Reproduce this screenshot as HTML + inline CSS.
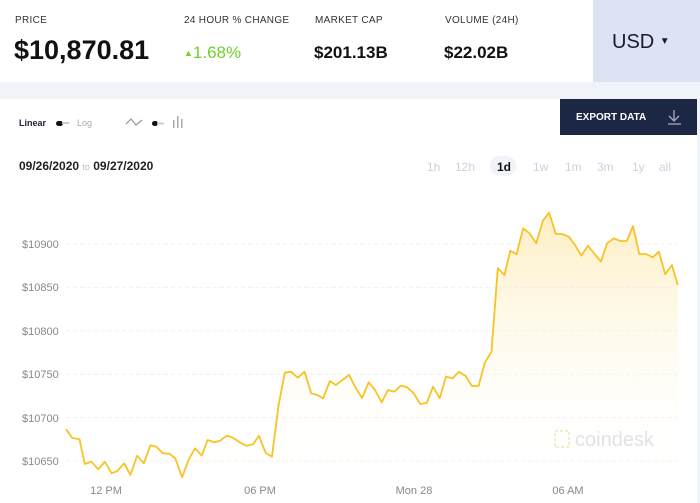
<!DOCTYPE html>
<html><head><meta charset="utf-8"><style>
*{margin:0;padding:0;box-sizing:border-box}
body{width:700px;height:503px;background:#f0f3f8;font-family:"Liberation Sans",sans-serif;position:relative;overflow:hidden;color:#1a1a2e}
.a{position:absolute;white-space:nowrap}
.lab{font-size:10px;color:#333;letter-spacing:0.3px}
.val{font-size:17px;font-weight:bold;color:#111}
.tf{position:absolute;top:160px;font-size:12px;color:#ccd2dd}
</style></head><body>
<div class="a" style="left:0;top:0;width:593px;height:82px;background:#fff"></div>
<div class="a" style="left:593px;top:0;width:107px;height:82px;background:#dde3f3"></div>
<div class="a" style="left:612px;top:31px;font-size:20px;color:#1a1a2e">USD <span style="font-size:10px;vertical-align:4px">▼</span></div>
<div class="a lab" style="left:15px;top:15px">PRICE</div>
<div class="a lab" style="left:184px;top:15px">24 HOUR % CHANGE</div>
<div class="a lab" style="left:315px;top:15px">MARKET CAP</div>
<div class="a lab" style="left:445px;top:15px">VOLUME (24H)</div>
<div class="a" style="left:14px;top:35px;font-size:27px;font-weight:bold;color:#111">$10,870.81</div>
<div class="a" style="left:184px;top:43px;font-size:17px;color:#6fd12a"><span style="font-size:9px;vertical-align:2px">▲</span>1.68%</div>
<div class="a val" style="left:314px;top:43px">$201.13B</div>
<div class="a val" style="left:444px;top:43px">$22.02B</div>

<div class="a" style="left:0;top:99px;width:697px;height:404px;background:#fff"></div>
<div class="a" style="left:560px;top:99px;width:137px;height:36px;background:#1c2645"></div>
<div class="a" style="left:576px;top:112px;font-size:10px;font-weight:bold;color:#fff">EXPORT DATA</div>
<svg class="a" style="left:666px;top:109px" width="18" height="17"><path d="M8,1V12M3,7L8,12L13,7M2,15H15" fill="none" stroke="#aab" stroke-width="1.3"/></svg>
<div class="a" style="left:19px;top:118px;font-size:9px;font-weight:bold;color:#223">Linear</div>
<div class="a" style="left:56px;top:121px;width:7px;height:5px;border-radius:3px;background:#111"></div>
<div class="a" style="left:62px;top:122px;width:7px;height:2px;background:#ccc"></div>
<div class="a" style="left:77px;top:118px;font-size:9px;color:#aaa">Log</div>
<svg class="a" style="left:125px;top:114px" width="65" height="16"><polyline points="1,10 6,5 11,11 17,6" fill="none" stroke="#999" stroke-width="1.2"/><rect x="27" y="7" width="6" height="5" rx="2.5" fill="#111"/><rect x="32" y="8.5" width="7" height="2" fill="#ccc"/><rect x="48" y="6" width="1.5" height="8" fill="#aaa"/><rect x="52" y="2" width="1.5" height="12" fill="#aaa"/><rect x="56" y="5" width="1.5" height="9" fill="#aaa"/></svg>
<div class="a" style="left:19px;top:159px;font-size:12px;font-weight:bold;color:#222">09/26/2020 <span style="font-size:9px;font-weight:normal;color:#bbb">to</span> 09/27/2020</div>
<div class="a" style="left:490px;top:156px;width:26px;height:20px;border-radius:10px;background:#f0f3f8"></div>
<span class="tf" style="left:427px">1h</span>
<span class="tf" style="left:455px">12h</span>
<span class="tf" style="left:497px;color:#111;font-weight:bold">1d</span>
<span class="tf" style="left:533px">1w</span>
<span class="tf" style="left:565px">1m</span>
<span class="tf" style="left:597px">3m</span>
<span class="tf" style="left:632px">1y</span>
<span class="tf" style="left:659px">all</span>

<svg class="a" style="left:0;top:0" width="700" height="503">
<defs><linearGradient id="g" x1="0" y1="0" x2="0" y2="1"><stop offset="0" stop-color="#fde7a8" stop-opacity="0.7"/><stop offset="1" stop-color="#fff" stop-opacity="0"/></linearGradient></defs>
<g stroke="#edf0f6" stroke-dasharray="4,3" stroke-width="1">
<line x1="66" x2="678" y1="244" y2="244"/><line x1="66" x2="678" y1="287.4" y2="287.4"/><line x1="66" x2="678" y1="330.8" y2="330.8"/><line x1="66" x2="678" y1="374.2" y2="374.2"/><line x1="66" x2="678" y1="417.6" y2="417.6"/><line x1="66" x2="678" y1="461" y2="461"/></g>
<g font-size="11" fill="#888" font-family="Liberation Sans,sans-serif">
<text x="22" y="248">$10900</text><text x="22" y="291">$10850</text><text x="22" y="335">$10800</text><text x="22" y="378">$10750</text><text x="22" y="422">$10700</text><text x="22" y="465">$10650</text>
<g text-anchor="middle"><text x="106" y="494">12 PM</text><text x="260" y="494">06 PM</text><text x="414" y="494">Mon 28</text><text x="568" y="494">06 AM</text></g></g>
<text x="575" y="446" font-size="20" fill="#dde0e6" font-family="Liberation Sans,sans-serif">coindesk</text>
<rect x="555" y="431" width="14" height="16" fill="none" stroke="#f5e9c8" stroke-width="2" stroke-dasharray="3,2"/>
<path id="area" fill="url(#g)"/>
<path id="ln" fill="none" stroke="#f7c325" stroke-width="1.8" stroke-linejoin="round"/>
</svg>
<script>
var p=[148,718,162,744,178,748,190,822,205,815,220,838,235,815,250,850,263,843,278,820,292,855,307,797,322,820,337,766,350,770,365,790,380,791,393,806,408,862,423,808,437,775,452,797,465,750,480,757,493,752,508,737,522,743,537,757,552,767,567,763,580,737,595,788,609,800,624,645,638,548,652,545,667,563,682,545,697,610,711,615,724,625,739,573,752,585,767,570,782,555,797,595,811,624,826,577,840,600,855,637,869,600,883,605,898,587,912,592,927,610,941,642,956,639,970,590,985,625,999,560,1014,565,1028,545,1043,558,1057,588,1072,588,1086,518,1101,485,1115,235,1130,255,1143,182,1157,193,1172,115,1186,130,1201,160,1216,92,1230,68,1245,132,1259,132,1274,140,1288,165,1302,197,1317,167,1331,190,1346,215,1360,160,1375,145,1389,153,1404,153,1418,108,1432,192,1447,192,1462,202,1476,185,1490,253,1505,225,1518,285];
var d="";for(var i=0;i<p.length;i+=2){d+=(i?"L":"M")+(p[i]/2.24).toFixed(1)+","+(190+p[i+1]/3).toFixed(1);}
document.getElementById("ln").setAttribute("d",d);
document.getElementById("area").setAttribute("d",d+"L"+(1518/2.24).toFixed(1)+",480L66,480Z");
</script>
</body></html>
